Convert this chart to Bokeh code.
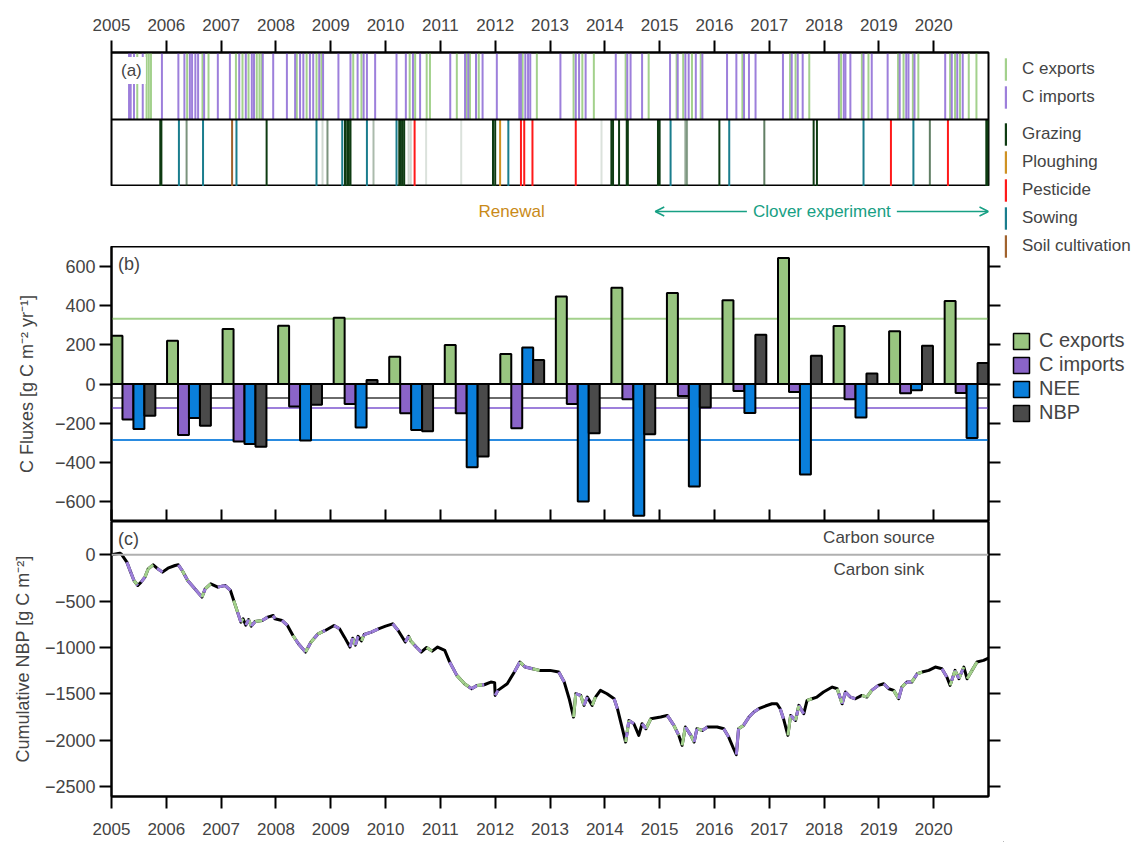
import numpy as np
from bokeh.plotting import figure
from bokeh.models import (Range1d, FixedTicker, LinearAxis, Span, Legend, LegendItem,
                          Label, Arrow, OpenHead, ColumnDataSource)
from bokeh.layouts import column, row
from bokeh.embed import file_html
from bokeh.resources import INLINE

FONT = "Liberation Sans"

# ---------------- data ----------------
years = list(range(2005, 2021))
c_exports = [246, 220, 280, 297, 337, 139, 198, 153, 446, 490, 463, 427, 641, 295, 269, 422]
c_imports = [-181, -259, -293, -114, -102, -149, -149, -225, -102, -78, -61, -36, -41, -78, -47, -46]
nee = [-229, -173, -305, -288, -222, -234, -424, 186, -598, -671, -522, -147, -461, -171, -32, -275]
nbp = [-161, -212, -319, -105, 20, -241, -369, 122, -251, -256, -119, 251, 144, 53, 195, 107]
flux_names = ["C exports", "C imports", "NEE", "NBP"]

export_dates = [2005.47, 2005.64, 2005.68, 2005.72, 2006.38, 2006.66, 2006.77, 2007.27, 2007.39,
                2007.50, 2007.65, 2007.70, 2007.74, 2008.38, 2008.56, 2008.74, 2008.83, 2009.41,
                2009.56, 2010.44, 2010.54, 2010.75, 2010.81, 2011.30, 2011.48, 2011.54, 2011.70,
                2012.50, 2012.76, 2013.43, 2013.59, 2013.80, 2014.38, 2014.80, 2015.31, 2015.43,
                2015.59, 2015.75, 2016.51, 2017.38, 2017.48, 2017.73, 2018.31, 2018.69, 2018.81,
                2019.35, 2019.45, 2019.62, 2019.72, 2020.30, 2020.39, 2020.48, 2020.64, 2020.78]
import_dates = [2005.32, 2005.35, 2005.41, 2005.57, 2005.92, 2006.22, 2006.33, 2006.43, 2006.47,
                2006.53, 2006.58, 2006.69, 2006.94, 2007.16, 2007.33, 2007.45, 2007.56, 2007.60,
                2007.76, 2007.95, 2008.20, 2008.35, 2008.44, 2008.50, 2008.62, 2008.68, 2008.79,
                2008.86, 2009.14, 2009.36, 2009.49, 2009.60, 2009.66, 2009.81, 2010.20, 2010.37,
                2010.50, 2010.63, 2011.18, 2011.45, 2011.51, 2011.65, 2011.77, 2012.03, 2012.44,
                2012.47, 2012.55, 2012.60, 2012.64, 2013.19, 2013.47, 2013.53, 2013.65, 2014.20,
                2014.41, 2014.47, 2014.68, 2015.19, 2015.33, 2015.47, 2015.53, 2015.66, 2015.78,
                2016.23, 2016.40, 2016.54, 2016.63, 2016.75, 2017.25, 2017.41, 2017.52, 2017.61,
                2018.27, 2018.36, 2018.39, 2018.48, 2018.72, 2018.87, 2019.16, 2019.38, 2019.50,
                2019.54, 2019.65, 2020.21, 2020.33, 2020.43, 2020.53]

grazing_dates = [2005.89, 2005.91, 2006.37, 2007.83, 2008.85, 2008.94, 2009.26, 2009.30, 2009.33,
                 2009.36, 2009.78, 2010.25, 2010.28, 2010.31, 2010.34, 2010.42, 2010.46, 2010.74,
                 2011.38, 2011.96, 2012.00, 2013.94, 2014.12, 2014.15, 2014.26, 2014.40, 2014.42,
                 2014.97, 2015.00, 2015.47, 2015.50, 2016.09, 2016.91, 2017.81, 2017.87, 2019.93,
                 2020.96, 2020.99]
grazing_intensity = [1.0, 1.0, 0.55, 1.0, 0.2, 0.55, 1.0, 1.0, 1.0,
                     1.0, 0.35, 1.0, 1.0, 1.0, 1.0, 0.2, 0.2, 0.15,
                     0.15, 1.0, 1.0, 0.15, 1.0, 1.0, 1.0, 1.0, 1.0,
                     1.0, 1.0, 0.45, 0.45, 1.0, 0.65, 1.0, 1.0, 0.65,
                     1.0, 1.0]
ploughing_dates = [2012.09]
pesticide_dates = [2010.53, 2012.47, 2012.53, 2012.68, 2013.47, 2019.22, 2020.26]
sowing_dates = [2006.23, 2006.67, 2007.28, 2008.74, 2009.21, 2009.66, 2010.20, 2012.24,
                2015.20, 2016.27, 2018.72, 2019.63]
soil_cultivation_dates = [2007.20]

cum_year = [2005.00, 2005.15, 2005.18, 2005.28, 2005.35, 2005.41, 2005.48, 2005.54, 2005.61, 2005.67,
            2005.76, 2005.83, 2005.93, 2006.03, 2006.16, 2006.22, 2006.29, 2006.39, 2006.52, 2006.65,
            2006.71, 2006.81, 2006.94, 2007.07, 2007.17, 2007.23, 2007.30, 2007.36, 2007.40, 2007.45,
            2007.50, 2007.55, 2007.62, 2007.75, 2007.85, 2007.95, 2007.98, 2008.11, 2008.21, 2008.31,
            2008.41, 2008.54, 2008.64, 2008.77, 2008.90, 2009.06, 2009.16, 2009.25, 2009.35, 2009.40,
            2009.45, 2009.50, 2009.56, 2009.61, 2009.74, 2009.87, 2010.00, 2010.13, 2010.23, 2010.36,
            2010.42, 2010.46, 2010.56, 2010.65, 2010.75, 2010.85, 2010.95, 2011.08, 2011.17, 2011.30,
            2011.44, 2011.57, 2011.67, 2011.80, 2011.92, 2011.99, 2012.00, 2012.05, 2012.22, 2012.35,
            2012.45, 2012.55, 2012.68, 2012.81, 2013.00, 2013.16, 2013.26, 2013.35, 2013.43, 2013.47,
            2013.56, 2013.62, 2013.68, 2013.77, 2013.83, 2013.92, 2014.04, 2014.17, 2014.23, 2014.32,
            2014.38, 2014.44, 2014.53, 2014.62, 2014.68, 2014.75, 2014.84, 2015.02, 2015.14, 2015.26,
            2015.35, 2015.41, 2015.47, 2015.57, 2015.63, 2015.68, 2015.78, 2015.87, 2016.05, 2016.17,
            2016.26, 2016.35, 2016.40, 2016.44, 2016.53, 2016.63, 2016.72, 2016.81, 2016.93, 2017.05,
            2017.14, 2017.20, 2017.26, 2017.34, 2017.39, 2017.48, 2017.54, 2017.63, 2017.69, 2017.78,
            2017.87, 2017.99, 2018.15, 2018.24, 2018.33, 2018.39, 2018.48, 2018.57, 2018.69, 2018.78,
            2018.87, 2018.99, 2019.09, 2019.18, 2019.27, 2019.36, 2019.42, 2019.51, 2019.60, 2019.70,
            2019.79, 2019.91, 2020.03, 2020.15, 2020.24, 2020.30, 2020.39, 2020.46, 2020.55, 2020.61,
            2020.70, 2020.79, 2020.91, 2021.00]
cum_nbp = [0, 18, 8, -79, -187, -277, -331, -295, -241, -151,
           -108, -144, -187, -144, -115, -108, -169, -277, -367, -457,
           -367, -313, -349, -331, -385, -493, -619, -727, -690, -760,
           -700, -770, -720, -709, -673, -655, -691, -709, -763, -871,
           -960, -1050, -942, -853, -817, -763, -799, -889, -996, -900,
           -975, -880, -930, -860, -835, -799, -770, -745, -817, -942,
           -880, -930, -996, -1050, -1000, -1040, -996, -1032, -1158, -1302,
           -1392, -1446, -1410, -1403, -1374, -1380, -1518, -1464, -1392, -1266,
           -1158, -1212, -1230, -1248, -1248, -1266, -1374, -1554, -1752, -1500,
           -1518, -1626, -1536, -1626, -1536, -1464, -1500, -1554, -1662, -1878,
           -2022, -1788, -1824, -1950, -1824, -1878, -1770, -1752, -1734, -1842,
           -1950, -2058, -1860, -1950, -2022, -1878, -1896, -1860, -1860, -1878,
           -1968, -2094, -2158, -1878, -1842, -1752, -1698, -1662, -1633, -1608,
           -1608, -1662, -1770, -1950, -1734, -1788, -1626, -1716, -1572, -1554,
           -1536, -1482, -1428, -1446, -1608, -1482, -1536, -1554, -1518, -1536,
           -1464, -1410, -1392, -1446, -1464, -1554, -1428, -1374, -1374, -1284,
           -1266, -1248, -1212, -1230, -1320, -1410, -1248, -1338, -1212, -1338,
           -1248, -1158, -1140, -1115]

flux_ticks = [600, 400, 200, 0, -200, -400, -600]
flux_tick_labels = ["600", "400", "200", "0", "\u2212200", "\u2212400", "\u2212600"]
cum_ticks = [0, -500, -1000, -1500, -2000, -2500]
cum_tick_labels = ["0", "\u2212500", "\u22121000", "\u22121500", "\u22122000", "\u22122500"]
year_labels = [str(y) for y in years]

renewal_year = 2012.3
clover_start, clover_end = 2014.92, 2021.0

# ---------------- styles ----------------
GREEN_BAR = "#98c580"
GREEN_LINE = "#a3d18c"
PURPLE_BAR = "#8a64c8"
PURPLE_LINE = "#9d7fdb"
BLUE_BAR = "#0a7fdb"
BLUE_LINE = "#2a8be0"
GREY_BAR = "#4a4a4a"
GREY_LINE = "#6a6a6a"
GRAZING = "#0e3b12"
PLOUGH = "#cf9223"
PEST = "#ff1a1a"
SOW = "#1a7d8d"
SOIL = "#a0622d"
TEAL_TXT = "#17a084"
RENEW = "#c98a18"

LEFT, RIGHT = 111, 15
W_MAIN = LEFT + 877 + RIGHT
XR = Range1d(2005, 2021)


def base_fig(height, y_range, top=0, bottom=0, outline=True):
    p = figure(width=W_MAIN, height=height, x_range=XR, y_range=y_range,
               output_backend="svg", toolbar_location=None,
               x_axis_location=None, y_axis_location=None,
               min_border_left=LEFT, min_border_right=RIGHT,
               min_border_top=top, min_border_bottom=bottom,
               background_fill_color="white", border_fill_color="white")
    p.grid.visible = False
    if outline:
        p.outline_line_color = "black"
        p.outline_line_width = 2
    else:
        p.outline_line_color = None
    return p


def style_axis(ax, size="17px", labels=True, tick_out=12, tick_in=0, standoff=4):
    ax.axis_line_width = 2
    ax.major_tick_line_width = 2
    ax.major_tick_out = tick_out
    ax.major_tick_in = tick_in
    ax.minor_tick_out = 0
    ax.minor_tick_in = 0
    ax.major_label_text_font = FONT
    if labels:
        ax.major_label_text_font_size = size
        ax.major_label_standoff = standoff
    else:
        ax.major_label_text_font_size = "0px"
        ax.major_label_text_color = None
        ax.major_label_standoff = 0
    ax.axis_label_text_font = FONT
    ax.axis_label_text_font_style = "normal"
    return ax


year_overrides = {y: l for y, l in zip(years, year_labels)}

# ---------------- panel (a) ----------------
pa = base_fig(52 + 134, Range1d(0, 2), top=52)
ax = LinearAxis(ticker=FixedTicker(ticks=years), major_label_overrides=year_overrides)
style_axis(ax, "17px", standoff=10)
pa.add_layout(ax, "above")
pa.add_layout(Span(location=1, dimension="width", line_color="black", line_width=2))

pa.segment(x0=export_dates, y0=1, x1=export_dates, y1=2, line_color=GREEN_LINE, line_width=2)
pa.segment(x0=import_dates, y0=1, x1=import_dates, y1=2, line_color=PURPLE_LINE, line_width=2)
gsrc = ColumnDataSource(dict(x=grazing_dates, a=grazing_intensity))
pa.segment(x0="x", y0=0, x1="x", y1=1, source=gsrc, line_color=GRAZING, line_alpha="a", line_width=2)
pa.segment(x0=sowing_dates, y0=0, x1=sowing_dates, y1=1, line_color=SOW, line_width=2)
pa.segment(x0=pesticide_dates, y0=0, x1=pesticide_dates, y1=1, line_color=PEST, line_width=2)
pa.segment(x0=ploughing_dates, y0=0, x1=ploughing_dates, y1=1, line_color=PLOUGH, line_width=2)
pa.segment(x0=soil_cultivation_dates, y0=0, x1=soil_cultivation_dates, y1=1, line_color=SOIL, line_width=2)
pa.add_layout(Label(x=2005.1, y=1.73, text="(a)", text_font=FONT, text_font_size="17px",
                    text_baseline="middle", background_fill_color="white", padding=4))

# ---------------- strip with annotations ----------------
ps = base_fig(60, Range1d(0, 60), outline=False)
ps.add_layout(Label(x=renewal_year, y=35, text="Renewal", text_font=FONT, text_font_size="17px",
                    text_color=RENEW, text_align="center", text_baseline="middle"))
ps.add_layout(Arrow(start=OpenHead(size=9, line_color=TEAL_TXT, line_width=1.5),
                    end=OpenHead(size=9, line_color=TEAL_TXT, line_width=1.5),
                    x_start=clover_start, y_start=35, x_end=clover_end, y_end=35,
                    line_color=TEAL_TXT, line_width=1.5))
ps.add_layout(Label(x=(clover_start + clover_end) / 2, y=35, text="Clover experiment", text_font=FONT,
                    text_font_size="17px", text_color=TEAL_TXT, text_align="center",
                    text_baseline="middle", background_fill_color="white", padding=6))

# ---------------- panel (b) ----------------
pb = base_fig(275, Range1d(-700, 700))
axl = LinearAxis(ticker=FixedTicker(ticks=flux_ticks),
                 major_label_overrides={t: l for t, l in zip(flux_ticks, flux_tick_labels)},
                 axis_label="C Fluxes [g C m\u207b\u00b2 yr\u207b\u00b9]")
style_axis(axl, "18px", standoff=4)
axl.axis_label_text_font_size = "18px"
axl.axis_label_standoff = 15
pb.add_layout(axl, "left")
axr = LinearAxis(ticker=FixedTicker(ticks=flux_ticks))
style_axis(axr, labels=False)
pb.add_layout(axr, "right")
axb = LinearAxis(ticker=FixedTicker(ticks=years))
style_axis(axb, labels=False, tick_out=0, tick_in=12)
pb.add_layout(axb, "below")

for vals, col in [(c_exports, GREEN_LINE), (c_imports, PURPLE_LINE), (nee, BLUE_LINE), (nbp, GREY_LINE)]:
    pb.add_layout(Span(location=float(np.mean(vals)), dimension="width", line_color=col,
                       line_width=2, level="underlay"))

k = np.arange(len(years))
group_left = years[0] + k * (len(years) - 0.8) / (len(years) - 1)
bw = 0.2
for j, (vals, col) in enumerate([(c_exports, GREEN_BAR), (c_imports, PURPLE_BAR),
                                  (nee, BLUE_BAR), (nbp, GREY_BAR)]):
    pb.vbar(x=group_left + bw * (j + 0.5), top=vals, bottom=0, width=bw,
            fill_color=col, line_color="black", line_width=2)
pb.add_layout(Span(location=0, dimension="width", line_color="black", line_width=2))
pb.add_layout(Label(x=2005.12, y=612, text="(b)", text_font=FONT, text_font_size="18px",
                    text_baseline="middle"))

# ---------------- panel (c) ----------------
C_BOTTOM = 46
pc = base_fig(275 + C_BOTTOM, Range1d(-2610, 360), bottom=C_BOTTOM)
axl = LinearAxis(ticker=FixedTicker(ticks=cum_ticks),
                 major_label_overrides={t: l for t, l in zip(cum_ticks, cum_tick_labels)},
                 axis_label="Cumulative NBP [g C m\u207b\u00b2]")
style_axis(axl, "18px", standoff=4)
axl.axis_label_text_font_size = "18px"
axl.axis_label_standoff = 9
pc.add_layout(axl, "left")
axr = LinearAxis(ticker=FixedTicker(ticks=cum_ticks))
style_axis(axr, labels=False)
pc.add_layout(axr, "right")
axb = LinearAxis(ticker=FixedTicker(ticks=years), major_label_overrides=year_overrides)
style_axis(axb, "17px", standoff=14)
pc.add_layout(axb, "below")

pc.add_layout(Span(location=0, dimension="width", line_color="#b0b0b0", line_width=2))
t = np.array(cum_year)
v = np.array(cum_nbp, dtype=float)
pc.line(t, v, line_color="black", line_width=3, line_join="round")

exp_arr = np.array(export_dates)
imp_arr = np.array(import_dates)
has_e = np.array([np.any((exp_arr >= t[i]) & (exp_arr < t[i + 1])) for i in range(len(t) - 1)])
has_i = np.array([np.any((imp_arr >= t[i]) & (imp_arr < t[i + 1])) for i in range(len(t) - 1)])
x0, x1, y0, y1 = t[:-1], t[1:], v[:-1], v[1:]
for mask, col, dash, off in [(has_e & ~has_i, GREEN_LINE, "solid", 0),
                             (has_i & ~has_e, PURPLE_LINE, "solid", 0),
                             (has_e & has_i, GREEN_LINE, "5 5", 0),
                             (has_e & has_i, PURPLE_LINE, "5 5", 5)]:
    pc.segment(x0=x0[mask], y0=y0[mask], x1=x1[mask], y1=y1[mask], line_color=col,
               line_width=3, line_dash=dash, line_dash_offset=off)

pc.add_layout(Label(x=2005.12, y=176, text="(c)", text_font=FONT, text_font_size="18px",
                    text_baseline="middle"))
pc.add_layout(Label(x=2019.0, y=190, text="Carbon source", text_font=FONT, text_font_size="17px",
                    text_align="center", text_baseline="middle"))
pc.add_layout(Label(x=2019.0, y=-162, text="Carbon sink", text_font=FONT, text_font_size="17px",
                    text_align="center", text_baseline="middle"))

# ---------------- legends column ----------------
H_TOTAL = 52 + 134 + 60 + 275 + 275 + C_BOTTOM
W_LEG = 1137 - W_MAIN
pl = figure(width=W_LEG, height=H_TOTAL, x_range=Range1d(0, 1), y_range=Range1d(0, 1),
            output_backend="svg", toolbar_location=None, x_axis_location=None,
            y_axis_location=None, min_border=0, outline_line_color=None,
            background_fill_color="white", border_fill_color="white")
pl.grid.visible = False


def dummy(fill, line=None, lw=1.0):
    # one off-screen bar so that the legend has a glyph to draw
    return pl.vbar(x=[-5], top=[-5], bottom=[-6], width=0.1, fill_color=fill,
                   line_color=line if line else fill, line_alpha=1 if line else 0, line_width=lw)


def make_legend(items, loc, gw, gh, spacing, standoff, size):
    lg = Legend(items=[LegendItem(label=l, renderers=[r]) for l, r in items], location=loc,
                glyph_width=gw, glyph_height=gh, spacing=spacing, padding=0, margin=0,
                label_standoff=standoff, border_line_color=None, background_fill_alpha=0,
                label_text_font=FONT, label_text_font_size=size, label_height=gh)
    pl.add_layout(lg)


make_legend([("C exports", dummy(GREEN_LINE)), ("C imports", dummy(PURPLE_LINE))],
            (1, H_TOTAL - 55 - 56), 3, 28, 0, 15, "17px")
make_legend([("Grazing", dummy(GRAZING)), ("Ploughing", dummy(PLOUGH)), ("Pesticide", dummy(PEST)),
             ("Sowing", dummy(SOW)), ("Soil cultivation", dummy(SOIL))],
            (1, H_TOTAL - 120 - 140), 3, 28, 0, 15, "17px")
make_legend([(n, dummy(c, "black", 1.5)) for n, c in
             zip(flux_names, [GREEN_BAR, PURPLE_BAR, BLUE_BAR, GREY_BAR])],
            (8, H_TOTAL - 333 - 91), 20, 20, 1, 8, "20px")

layout = row(column(pa, ps, pb, pc, spacing=0), pl, spacing=0)
open("out.html", "w").write(file_html(layout, INLINE))
